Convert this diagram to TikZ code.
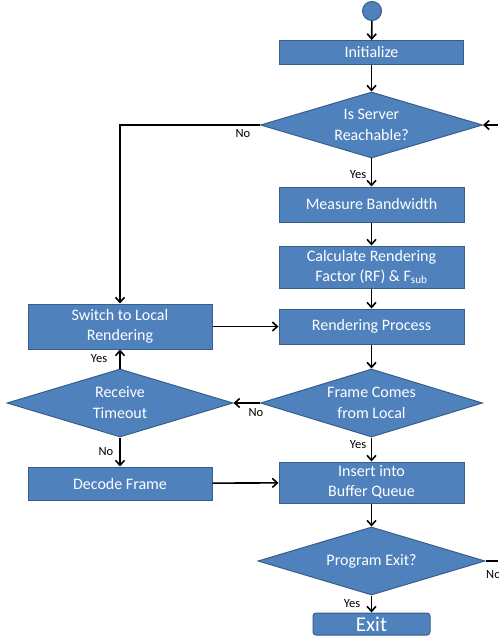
\documentclass[tikz,border=0pt]{standalone}
\usepackage{fontspec}
\setmainfont{Carlito}
\usetikzlibrary{shapes.geometric,arrows.meta}
\definecolor{boxfill}{HTML}{4F81BD}
\definecolor{boxline}{HTML}{385D8A}
\begin{document}
\begin{tikzpicture}[x=1pt,y=-1pt,
  proc/.style={rectangle,fill=boxfill,draw=boxline,line width=1pt,text=white,
    font=\fontsize{16}{20}\selectfont,align=center,inner sep=0pt},
  dia/.style={diamond,fill=boxfill,draw=boxline,line width=1pt,inner sep=0pt},
  diatxt/.style={text=white,font=\fontsize{16}{21}\selectfont,align=center,inner sep=0pt},
  lbl/.style={font=\fontsize{12.5}{14}\selectfont,inner sep=0pt},
  conn/.style={line width=1.6pt,-{Straight Barb[length=5pt,width=9pt,line width=1.6pt]}},
  plain/.style={line width=1.6pt}]
\useasboundingbox (0,0) rectangle (498,639);
\fill[white] (0,0) rectangle (498,639);

\node[circle,fill=boxfill,draw=boxline,line width=1pt,minimum size=19pt,inner sep=0pt] (start) at (372,11) {};
\node[proc,minimum width=184pt,minimum height=24pt] (init) at (371.5,52.5) {Initialize};
\node[dia,minimum width=222pt,minimum height=66pt] (srv) at (371.5,125) {};
\node[diatxt] (srvt) at (371.5,125) {Is Server\\Reachable?};
\node[proc,minimum width=185pt,minimum height=35pt] (bw) at (371.5,204.5) {Measure Bandwidth};
\node[proc,minimum width=185pt,minimum height=42pt] (calc) at (371.5,267) {Calculate Rendering\\Factor (RF) \& F\textsubscript{sub}};
\node[proc,minimum width=185pt,minimum height=35pt] (rend) at (371.5,326.5) {Rendering Process};
\node[dia,minimum width=222pt,minimum height=68pt] (frame) at (371.5,403) {};
\node[diatxt] (framet) at (371.5,403) {Frame Comes\\from Local};
\node[proc,minimum width=185pt,minimum height=41pt] (ins) at (371.5,482.5) {Insert into\\Buffer Queue};
\node[dia,minimum width=227pt,minimum height=68pt] (pexit) at (371.5,561) {};
\node[diatxt] (pexitt) at (371.5,561) {Program Exit?};
\node[proc,rounded corners=3pt,minimum width=117pt,minimum height=22pt,font=\fontsize{21}{22}\selectfont] (exit) at (371.5,624) {Exit};

\node[proc,minimum width=184pt,minimum height=45pt] (sw) at (120,326.5) {Switch to Local\\Rendering};
\node[dia,minimum width=226pt,minimum height=68pt] (rto) at (120,403) {};
\node[diatxt] (rtot) at (120,403) {Receive\\Timeout};
\node[proc,minimum width=184pt,minimum height=33pt] (dec) at (120,483.5) {Decode Frame};

\coordinate (rin) at (498,125);
\coordinate (rout) at (498,561);
\coordinate (bend) at (120,125);

\draw[conn] (start) -- (init);
\draw[conn] (init) -- (srv.north);
\draw[conn] (srv.west) -- (bend) -- (sw.north);
\draw[conn] (srv.south) -- (bw);
\draw[conn] (bw) -- (calc);
\draw[conn] (calc) -- (rend);
\draw[conn] (sw) -- (rend);
\draw[conn] (rend) -- (frame.north);
\draw[conn] (frame.west) -- (rto.east);
\draw[conn] (frame.south) -- (ins);
\draw[conn] (rto.north) -- (sw);
\draw[conn] (rto.south) -- (dec);
\draw[conn] (dec) -- (ins);
\draw[conn] (ins) -- (pexit.north);
\draw[conn] (pexit.south) -- (exit);
\draw[plain] (pexit.east) -- (rout);
\draw[conn] (rin) -- (srv.east);

\node[lbl] (l1) at (243,134) {No};
\node[lbl] (l2) at (358,175) {Yes};
\node[lbl] (l3) at (256,413) {No};
\node[lbl] (l4) at (358,445) {Yes};
\node[lbl] (l5) at (99,359) {Yes};
\node[lbl] (l6) at (106,452) {No};
\node[lbl] (l7) at (352,604) {Yes};
\node[lbl,anchor=west] (l8) at (486,575) {No};
\end{tikzpicture}
\end{document}
